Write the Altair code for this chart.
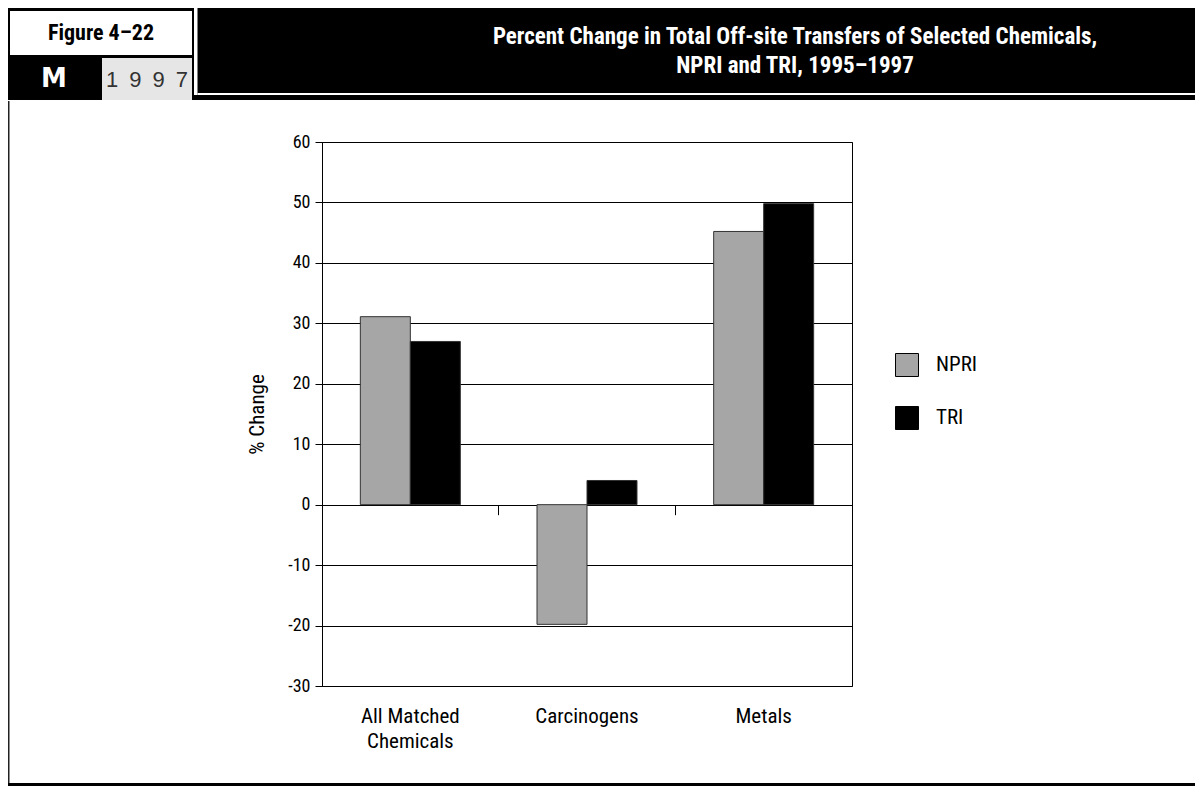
import altair as alt
import pandas as pd

# ---------------- data ----------------
categories = ["All Matched Chemicals", "Carcinogens", "Metals"]
series_names = ["NPRI", "TRI"]
npri_values = [31.1, -19.8, 45.2]
tri_values = [27.0, 4.0, 49.8]
y_tick_values = [60, 50, 40, 30, 20, 10, 0, -10, -20, -30]
series_colors = ["#a6a6a6", "#000000"]

title_lines = [
    "Percent Change in Total Off-site Transfers of Selected Chemicals,",
    "NPRI and TRI, 1995\u20131997",
]
figure_label = "Figure 4\u201322"
section_letter = "M"
year_label = "1\u20029\u20029\u20027"

rows = []
for c, a, b in zip(categories, npri_values, tri_values):
    rows.append({"category": c, "series": series_names[0], "value": a})
    rows.append({"category": c, "series": series_names[1], "value": b})
df = pd.DataFrame(rows)

NARROW = "Roboto Condensed, Roboto, sans-serif"

PLOT_W, PLOT_H = 530, 544
OX, OY = 322, 142  # page position of plot origin


def rx(x):
    return x - OX


def ry(y):
    return y - OY


one = pd.DataFrame({"k": [0]})


def rect(x1, y1, x2, y2, fill):
    return alt.Chart(one).mark_rect(fill=fill, strokeWidth=0).encode(
        x=alt.value(rx(x1)), x2=alt.value(rx(x2)),
        y=alt.value(ry(y1)), y2=alt.value(ry(y2)),
    )


def label(text, x, y, size, color, weight="normal", font=NARROW, baseline="middle"):
    return alt.Chart(one).mark_text(
        text=text, fontSize=size, color=color, fontWeight=weight, font=font,
        align="center", baseline=baseline,
    ).encode(x=alt.value(rx(x)), y=alt.value(ry(y)))


decor = [
    rect(8, 8, 1195, 100, "black"),
    rect(194, 8, 197.5, 95, "white"),
    rect(197.5, 93, 1195, 95, "white"),
    rect(10, 11, 192, 55, "white"),
    rect(102, 58, 192, 100, "#e6e6e6"),
    rect(8, 101, 9.5, 786, "#222222"),
    rect(8, 783, 1195, 786, "black"),
    label(figure_label, 101, 33, 22, "black", "bold"),
    label(section_letter, 54, 79, 26, "white", "bold", font="DejaVu Sans, sans-serif"),
    label(year_label, 147, 80, 22, "#333333", font="Liberation Sans, Arial, sans-serif"),
    label(title_lines[0], 795, 44, 23, "white", "bold", baseline="alphabetic"),
    label(title_lines[1], 795, 73, 23, "white", "bold", baseline="alphabetic"),
]

bars = alt.Chart(df).mark_bar(stroke="#333333", strokeWidth=1).encode(
    x=alt.X(
        "category:N", sort=categories,
        scale=alt.Scale(type="band", paddingInner=0.434, paddingOuter=0.217),
        axis=alt.Axis(
            orient="bottom", title=None, labelAngle=0, ticks=False, domain=False,
            labelPadding=19, labelFontSize=21, labelLineHeight=25, labelColor="black",
            labelExpr="datum.label == 'All Matched Chemicals' ? ['All Matched', 'Chemicals'] : datum.label",
        ),
    ),
    xOffset=alt.XOffset("series:N", sort=series_names,
                        scale=alt.Scale(paddingInner=0, paddingOuter=0)),
    y=alt.Y(
        "value:Q",
        scale=alt.Scale(domain=[-30, 60], nice=False, zero=False),
        axis=alt.Axis(
            values=y_tick_values, title="% Change", grid=True, gridColor="black",
            gridWidth=1, gridOpacity=1, domainColor="black", tickColor="black",
            tickSize=7, labelFontSize=18, labelColor="black", labelPadding=5,
            labelExpr="'' + datum.value",
            titleFontSize=21, titleFontWeight="normal", titleColor="black",
            titleX=-65, titleY=PLOT_H / 2, titleAngle=270, titleAlign="center",
            titleBaseline="middle",
        ),
    ),
    color=alt.Color(
        "series:N",
        scale=alt.Scale(domain=series_names, range=series_colors),
        legend=alt.Legend(
            orient="none", legendX=573, legendY=211, title=None,
            symbolType="square", symbolSize=529, symbolStrokeColor="black",
            symbolStrokeWidth=1, labelFontSize=21, labelOffset=17,
            rowPadding=25, padding=0, labelColor="black",
        ),
    ),
)

zero_axis = alt.Chart(df).mark_point(opacity=0).encode(
    x=alt.X(
        "category:N", sort=categories,
        scale=alt.Scale(type="band", paddingInner=0, paddingOuter=0),
        axis=alt.Axis(
            orient="bottom", offset=-PLOT_H * 30 / 90, labels=False, domain=False,
            ticks=True, bandPosition=0, tickSize=10, tickColor="black",
            title=None, grid=False,
        ),
    ),
)

chart = alt.layer(*decor, bars, zero_axis).resolve_scale(x="independent").resolve_axis(
    x="independent"
).properties(
    width=PLOT_W, height=PLOT_H, padding=0, background="white",
).configure_view(stroke="black", strokeWidth=1).configure_axis(
    labelFont=NARROW, titleFont=NARROW,
).configure_legend(labelFont=NARROW)

chart.save("out.html", embed_options={"renderer": "svg", "actions": False})
